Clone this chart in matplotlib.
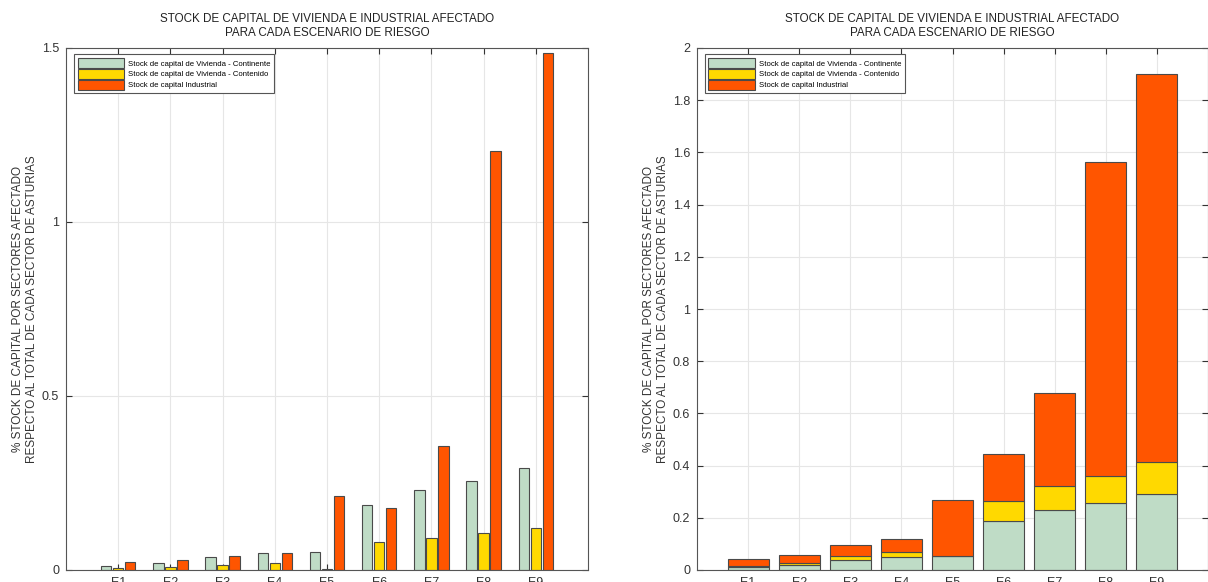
import matplotlib
matplotlib.use("Agg")
import matplotlib.pyplot as plt
import numpy as np

plt.rcParams["font.family"] = ["Liberation Sans", "DejaVu Sans"]

escenarios = ["E1", "E2", "E3", "E4", "E5", "E6", "E7", "E8", "E9"]
vivienda_continente = [0.012, 0.020, 0.038, 0.050, 0.052, 0.186, 0.230, 0.255, 0.293]
vivienda_contenido = [0.005, 0.008, 0.015, 0.020, 0.003, 0.080, 0.092, 0.105, 0.120]
industrial = [0.024, 0.029, 0.041, 0.048, 0.212, 0.179, 0.356, 1.205, 1.487]

series_labels = [
    "Stock de capital de Vivienda - Continente",
    "Stock de capital de Vivienda - Contenido",
    "Stock de capital Industrial",
]
colors = ["#bfdcc6", "#ffd900", "#ff5500"]
edge = "#4a4a4a"

title = "STOCK DE CAPITAL DE VIVIENDA E INDUSTRIAL AFECTADO\nPARA CADA ESCENARIO DE RIESGO"
ylabel = "% STOCK DE CAPITAL POR SECTORES AFECTADO\nRESPECTO AL TOTAL DE CADA SECTOR DE ASTURIAS"

W, H = 1208, 582
fig = plt.figure(figsize=(W / 100, H / 100), dpi=100)
fig.patch.set_facecolor("white")


def px_axes(x0, y0, x1, y1):
    return fig.add_axes([x0 / W, 1 - y1 / H, (x1 - x0) / W, (y1 - y0) / H])


def style(ax, ymax, yticks, yticklabels, labelpad):
    x = np.arange(1, len(escenarios) + 1)
    ax.set_xlim(0, 10)
    ax.set_ylim(0, ymax)
    ax.set_xticks(x)
    ax.set_xticklabels(escenarios, fontsize=9)
    ax.set_yticks(yticks)
    ax.set_yticklabels(yticklabels, fontsize=9)
    ax.tick_params(direction="in", length=4, width=0.8, top=True, right=True,
                   colors="#333333", pad=5)
    ax.grid(True, color="#e6e6e6", linewidth=0.8)
    ax.set_axisbelow(True)
    for sp in ax.spines.values():
        sp.set_color("#555555")
        sp.set_linewidth(0.8)
    ax.set_title(title, fontsize=8.4, color="#222222", pad=9, linespacing=1.15)
    ax.set_ylabel(ylabel, fontsize=8.5, color="#333333", labelpad=labelpad,
                  linespacing=1.2)
    leg = ax.legend(loc="upper left", fontsize=5.6, handlelength=6.0, handleheight=1.6,
                    borderpad=0.45, labelspacing=0.12, handletextpad=0.5,
                    fancybox=False, framealpha=1, edgecolor="#555555",
                    bbox_to_anchor=(0.008, 0.995))
    leg.get_frame().set_linewidth(0.8)


x = np.arange(1, len(escenarios) + 1)

# grouped bars
ax1 = px_axes(66, 48, 588, 570)
w = 0.2
offsets = [-0.23, 0.0, 0.23]
for vals, off, c, lab in zip([vivienda_continente, vivienda_contenido, industrial],
                             offsets, colors, series_labels):
    ax1.bar(x + off, vals, width=w, color=c, edgecolor=edge, linewidth=0.8, label=lab)
style(ax1, 1.5, [0, 0.5, 1, 1.5], ["0", "0.5", "1", "1.5"], labelpad=3)

# stacked bars
ax2 = px_axes(697, 48, 1208, 570)
bottom = np.zeros(len(escenarios))
for vals, c, lab in zip([vivienda_continente, vivienda_contenido, industrial],
                        colors, series_labels):
    ax2.bar(x, vals, width=0.8, bottom=bottom, color=c, edgecolor=edge,
            linewidth=0.8, label=lab)
    bottom = bottom + np.array(vals)
yt = np.round(np.arange(0, 2.01, 0.2), 1)
style(ax2, 2, yt, ["0"] + [f"{v:g}" for v in yt[1:-1]] + ["2"], labelpad=3)

fig.savefig("out.png", dpi=100)
